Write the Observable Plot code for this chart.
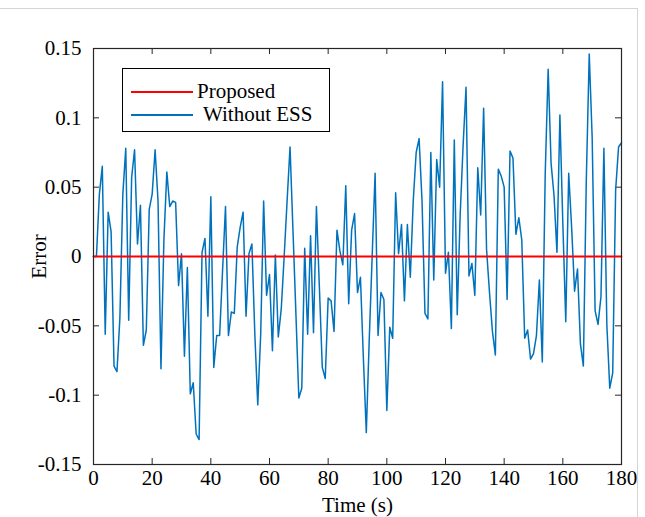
<!DOCTYPE html>
<html>
<head>
<meta charset="utf-8">
<script src="https://cdn.jsdelivr.net/npm/d3@7"></script>
<script src="https://cdn.jsdelivr.net/npm/@observablehq/plot@0.6"></script>
<style>
  html, body { margin: 0; padding: 0; background: #fff; }
  #wrap { position: relative; width: 645px; height: 517px; overflow: hidden; font-family: "Liberation Serif", "Times New Roman", serif; }
  #border { position: absolute; left: -2px; top: 8px; width: 639px; height: 520px; border-top: 1px solid #d4d4d4; border-right: 1px solid #d4d4d4; }
  #legend { position: absolute; left: 122px; top: 68px; width: 208px; height: 64px; border: 1px solid #000; background: #fff; box-sizing: border-box; }
  #legend .row { position: absolute; left: 0; height: 22px; display: flex; align-items: center; font-size: 21px; color: #000; white-space: pre; }
  #legend svg { display: block; }
</style>
</head>
<body>
<div id="wrap">
  <div id="border"></div>
  <div id="chart"></div>
  <div id="legend"></div>
</div>
<script>
// Time axis (s)
const time = d3.range(0, 181);
// "Without ESS" error series
const withoutESS = [
  0, 0, 0.045, 0.065, -0.056, 0.032, 0.018, -0.079, -0.083, -0.044,
  0.045, 0.078, -0.046, 0.057, 0.077, 0.009, 0.037, -0.064, -0.053, 0.034,
  0.045, 0.077, 0.040, -0.081, 0.012, 0.061, 0.036, 0.040, 0.039, -0.021,
  0.002, -0.072, -0.008, -0.099, -0.091, -0.128, -0.132, 0.003, 0.013, -0.043,
  0.043, -0.080, -0.057, -0.057, -0.010, 0.036, -0.057, -0.040, -0.041, 0.007,
  0.021, 0.032, -0.043, 0.002, 0.009, -0.056, -0.107, -0.056, 0.040, -0.028,
  -0.013, -0.068, 0.001, -0.058, -0.038, 0.000, 0.040, 0.079, 0.019, -0.041,
  -0.102, -0.095, 0.006, -0.056, 0.015, -0.055, 0.036, -0.022, -0.080, -0.088,
  -0.030, -0.032, -0.054, 0.019, 0.004, -0.006, 0.051, -0.034, 0.019, 0.031,
  -0.026, -0.015, -0.073, -0.127, -0.060, 0.000, 0.060, -0.057, -0.026, -0.031,
  -0.111, -0.051, -0.059, 0.046, 0.002, 0.023, -0.032, 0.023, -0.015, 0.040,
  0.075, 0.085, 0.040, -0.041, -0.045, 0.075, -0.017, 0.070, 0.050, 0.126,
  -0.012, 0.003, -0.052, 0.084, -0.042, 0.030, 0.080, 0.122, -0.014, -0.005,
  -0.028, 0.064, 0.030, 0.107, 0.005, -0.026, -0.054, -0.071, 0.063, 0.058,
  0.050, -0.031, 0.076, 0.071, 0.016, 0.028, 0.012, -0.059, -0.053, -0.074,
  -0.070, -0.057, -0.017, -0.076, 0.060, 0.135, 0.067, 0.044, 0.003, 0.102,
  0.024, -0.047, 0.060, 0.021, -0.025, -0.009, -0.063, -0.079, 0.055, 0.146,
  0.086, -0.039, -0.049, -0.029, 0.078, -0.049, -0.095, -0.084, 0.048, 0.079,
  0.082
];
// "Proposed" error series
const proposed = time.map(() => 0);

const xTicks = [0, 20, 40, 60, 80, 100, 120, 140, 160, 180];
const yTicks = [-0.15, -0.1, -0.05, 0, 0.05, 0.1, 0.15];
const seriesNames = ["Proposed", "Without ESS"];
const seriesColors = ["#ff0000", "#0072bd"];

const blueData = time.map((t, i) => ({t, v: withoutESS[i]}));
const redData = time.map((t, i) => ({t, v: proposed[i]}));

const W = 645, H = 517;
const mL = 93, mR = 24, mT = 48, mB = 53;
const innerW = W - mL - mR, innerH = H - mT - mB;
const tickLen = 6;
const frameColor = "#262626";

const chart = Plot.plot({
  width: W,
  height: H,
  marginLeft: mL,
  marginRight: mR,
  marginTop: mT,
  marginBottom: mB,
  style: { fontFamily: "'Liberation Serif', 'Times New Roman', serif", fontSize: "21px", color: "#000", background: "transparent" },
  x: { domain: [0, 180] },
  y: { domain: [-0.15, 0.15] },
  marks: [
    // inward ticks on all four sides
    Plot.tickX(xTicks, { x: d => d, insetTop: innerH - tickLen, stroke: frameColor }),
    Plot.tickX(xTicks, { x: d => d, insetBottom: innerH - tickLen, stroke: frameColor }),
    Plot.tickY(yTicks, { y: d => d, insetLeft: innerW - tickLen, stroke: frameColor }),
    Plot.tickY(yTicks, { y: d => d, insetRight: innerW - tickLen, stroke: frameColor }),
    Plot.line(blueData, { x: "t", y: "v", stroke: seriesColors[1], strokeWidth: 1.5 }),
    Plot.line(redData, { x: "t", y: "v", stroke: seriesColors[0], strokeWidth: 1.8 }),
    Plot.axisX({ ticks: xTicks, tickSize: 0, tickPadding: 6, tickFormat: d => String(d),
      label: "Time (s)", labelAnchor: "center", labelOffset: 47, labelArrow: "none", fill: "#000" }),
    Plot.axisY({ ticks: yTicks, tickSize: 0, tickPadding: 12, tickFormat: d => String(d),
      label: "Error", labelAnchor: "center", labelOffset: 62, labelArrow: "none", fill: "#000" }),
    Plot.frame({ stroke: frameColor, strokeWidth: 1.2 })
  ]
});
document.getElementById("chart").appendChild(chart);

// legend
const legend = document.getElementById("legend");
const rowTops = [12, 35];
const textLeft = [74, 80];
seriesNames.forEach((name, i) => {
  const row = document.createElement("div");
  row.className = "row";
  row.style.top = rowTops[i] + "px";
  row.innerHTML = `<svg width="74" height="22" style="position:absolute;left:0;top:0"><line x1="8" x2="70" y1="11" y2="11" stroke="${seriesColors[i]}" stroke-width="2"/></svg><span style="position:absolute;left:${textLeft[i]}px;top:-2px;line-height:24px">${name}</span>`;
  legend.appendChild(row);
});
</script>
</body>
</html>
